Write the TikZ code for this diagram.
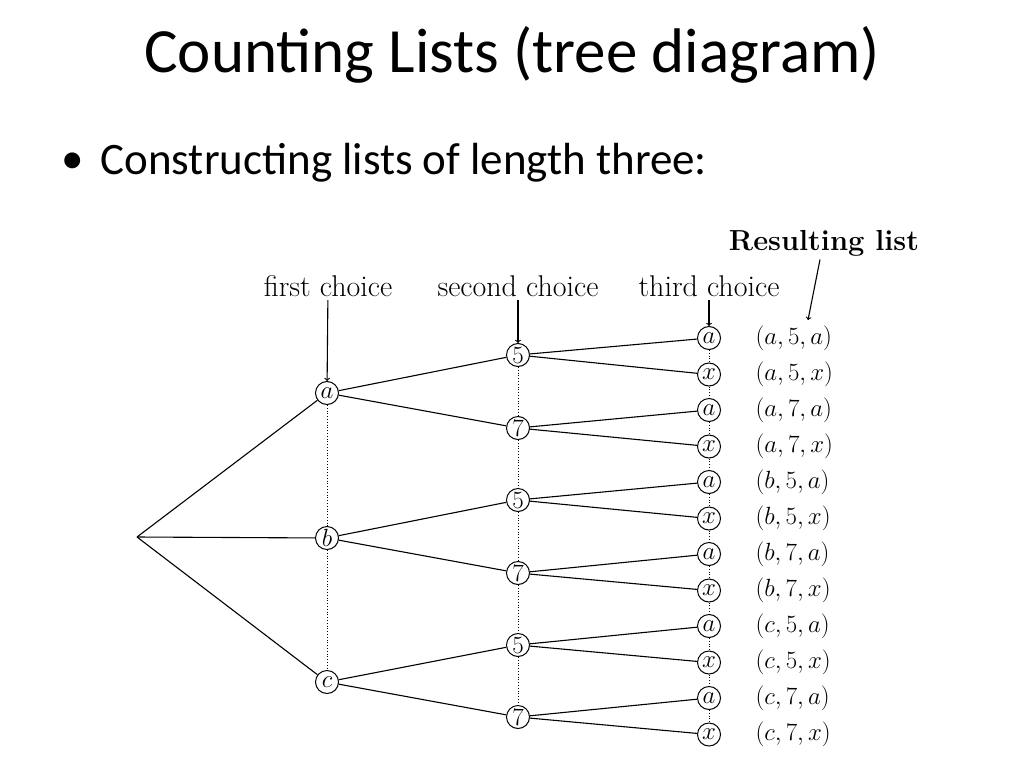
\documentclass[tikz,border=0pt]{standalone}
\usepackage{fontspec}
\newfontfamily\calfnt{Carlito}
\begin{document}
\begin{tikzpicture}[x=1pt,y=-1pt,
  cn/.style={circle,draw,inner sep=0pt,minimum size=23pt,line width=1pt,font=\fontsize{26}{26}\selectfont},
  lbl/.style={font=\fontsize{33}{33}\selectfont,anchor=west},
  hd/.style={font=\fontsize{30}{30}\selectfont},
  dt/.style={dotted,line width=0.8pt},
  ed/.style={line width=1.1pt}]
\useasboundingbox (0,0) rectangle (1024,768);
\node[font=\calfnt\fontsize{63}{63}\selectfont] (title) at (512,55) {Counting Lists (tree diagram)};
\node[font=\calfnt\fontsize{45}{45}\selectfont,anchor=west] (bul) at (97,163) {Constructing lists of length three:};
\node[font=\calfnt\fontsize{45}{45}\selectfont] (dot) at (73,163) {\textbullet};
\coordinate (r) at (137,537);
\node[cn] (a) at (327,393) {$a$};
\node[cn] (b) at (327,538) {$b$};
\node[cn] (c) at (327,682) {$c$};
\draw[dt] (a) -- (b); \draw[dt] (b) -- (c);
\foreach \p in {a,b,c} \draw[ed] (r) -- (\p);
\node[cn] (a5) at (518,355) {$5$};
\node[cn] (a7) at (518,428) {$7$};
\node[cn] (b5) at (518,500) {$5$};
\node[cn] (b7) at (518,573) {$7$};
\node[cn] (c5) at (518,645) {$5$};
\node[cn] (c7) at (518,717) {$7$};
\draw[dt] (a5)--(a7); \draw[dt] (a7)--(b5); \draw[dt] (b5)--(b7); \draw[dt] (b7)--(c5); \draw[dt] (c5)--(c7);
\foreach \p in {a,b,c}{\draw[ed] (\p) -- (\p5); \draw[ed] (\p) -- (\p7);}
\foreach \p/\q/\y in {a/5/338,a/7/410,b/5/482,b/7/554,c/5/626,c/7/698}{
  \node[cn] (\p\q a) at (709,\y) {$a$};
  \node[cn] (\p\q x) at (709,\y+36.5) {$x$};
  \draw[dt] (\p\q a) -- (\p\q x);
  \draw[ed] (\p\q) -- (\p\q a); \draw[ed] (\p\q) -- (\p\q x);
  \node[lbl] (L\p\q a) at (752,\y) {$(\p,\q,a)$};
  \node[lbl] (L\p\q x) at (752,\y+36.5) {$(\p,\q,x)$};
}
\draw[dt] (a7x)--(b5a); \draw[dt] (a5x)--(a7a); \draw[dt] (b5x)--(b7a); \draw[dt] (b7x)--(c5a); \draw[dt] (c5x)--(c7a);
\node[hd] (h1) at (328,286) {first choice};
\node[hd] (h2) at (518,286) {second choice};
\node[hd] (h3) at (709,286) {third choice};
\node[hd,font=\fontsize{29}{29}\selectfont\bfseries] (h4) at (824,243) {Resulting list};
\draw[->,ed] (h1) -- (a);
\draw[->,ed] (h2) -- (a5);
\draw[->,ed] (h3) -- (a5a);
\coordinate (h4e) at (808,320);
\draw[->,ed] ([xshift=-4pt]h4.south) -- (h4e);
\end{tikzpicture}
\end{document}
